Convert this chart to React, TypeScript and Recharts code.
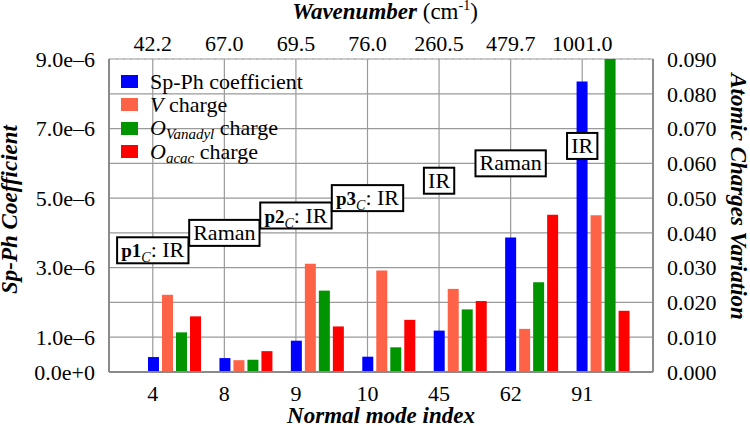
import React, { useLayoutEffect, useRef, useState } from 'react';
import { BarChart, Bar, XAxis, YAxis, CartesianGrid, Legend, ReferenceDot, ReferenceLine } from 'recharts';

const FONT = '"Liberation Serif", "Times New Roman", serif';

// normal modes and their wavenumbers (cm-1)
const modes = ['4', '8', '9', '10', '45', '62', '91'];
const wavenumbers = ['42.2', '67.0', '69.5', '76.0', '260.5', '479.7', '1001.0'];

// left axis
const spPh = [0.43e-6, 0.4e-6, 0.9e-6, 0.44e-6, 1.19e-6, 3.87e-6, 8.35e-6];
// right axis
const vCharge = [0.0222, 0.0034, 0.0311, 0.0292, 0.0239, 0.0124, 0.0451];
const oVanadyl = [0.0114, 0.0035, 0.0234, 0.0071, 0.018, 0.0258, 0.09];
const oAcac = [0.016, 0.006, 0.0131, 0.015, 0.0204, 0.0452, 0.0176];

const leftTicks = [0, 1e-6, 3e-6, 5e-6, 7e-6, 9e-6];
const rightTicks = [0, 0.01, 0.02, 0.03, 0.04, 0.05, 0.06, 0.07, 0.08, 0.09];
const minorTicks = [0.5e-6, 1.5e-6, 2.5e-6, 3.5e-6, 4.5e-6, 5.5e-6, 6.5e-6, 7.5e-6, 8.5e-6];

// activity labels above the groups
const tagPeaks = ['p1', '', 'p2', 'p3', '', '', ''];
const tagKinds = ['IR', 'Raman', 'IR', 'IR', 'IR', 'Raman', 'IR'];
const tagLevels = [3.5e-6, 4.0e-6, 4.5e-6, 5.0e-6, 5.5e-6, 6.0e-6, 6.5e-6];

const data = modes.map((mode, i) => ({
    mode,
    wn: wavenumbers[i],
    spPh: spPh[i],
    vCharge: vCharge[i],
    oVanadyl: oVanadyl[i],
    oAcac: oAcac[i],
}));

const series = [
    { key: 'spPh', axis: 'left', color: '#0000FF', label: <>Sp-Ph coefficient</> },
    { key: 'vCharge', axis: 'right', color: '#FF6347', label: <><i>V</i> charge</> },
    {
        key: 'oVanadyl',
        axis: 'right',
        color: '#009400',
        label: <><i>O<span style={{ fontSize: 15, position: 'relative', top: 4 }}>Vanadyl</span></i> charge</>,
    },
    {
        key: 'oAcac',
        axis: 'right',
        color: '#FF0000',
        label: <><i>O<span style={{ fontSize: 15, position: 'relative', top: 4 }}>acac</span></i> charge</>,
    },
];

const GRID = '#9a9a9a';
const tickStyle = { fill: '#000', fontSize: 22, fontFamily: FONT };
const titleStyle = { fontFamily: FONT, fontSize: 23, fontWeight: 'bold' as const, fontStyle: 'italic' as const };

const TagBox = ({ cx, cy, peak, kind }: any) => {
    const ref = useRef<SVGTextElement>(null);
    const [w, setW] = useState(0);
    useLayoutEffect(() => {
        if (ref.current) setW(ref.current.getBBox().width);
    }, [peak, kind]);
    if (cx == null || cy == null) return null;
    return (
        <g>
            <rect x={cx - w / 2 - 4} y={cy - 13} width={w + 8} height={26} fill="#fff" stroke="#000" strokeWidth={2} />
            <text ref={ref} x={cx} y={cy + 7} textAnchor="middle" fontFamily={FONT} fontSize={22} fill="#000">
                {peak ? (
                    <>
                        <tspan fontWeight="bold" fontSize={19}>{peak}</tspan>
                        <tspan fontStyle="italic" fontSize={14} dy={5}>C</tspan>
                        <tspan dy={-5}>: {kind}</tspan>
                    </>
                ) : (
                    <tspan>{kind}</tspan>
                )}
            </text>
        </g>
    );
};

const LegendBox = () => (
    <div style={{ fontFamily: FONT, fontSize: 22, color: '#000' }}>
        {series.map((s) => (
            <div key={s.key} style={{ display: 'flex', alignItems: 'center', height: 23.3, whiteSpace: 'nowrap' }}>
                <span style={{ display: 'inline-block', width: 17, height: 13, background: s.color, marginRight: 12 }} />
                <span>{s.label}</span>
            </div>
        ))}
    </div>
);

const fmtLeft = (v: number) => v.toExponential(1).replace('-', '\u2013');
const fmtRight = (v: number) => v.toFixed(3);

export default function App() {
    return (
        <div style={{ position: 'absolute', left: 0, top: 0, background: '#fff' }}>
            <BarChart
                width={750}
                height={426}
                data={data}
                margin={{ top: 29, right: 30, bottom: 18, left: 30 }}
                barSize={11}
                barGap={3}
            >
                <CartesianGrid xAxisId="grid" yAxisId="right" vertical={false} stroke={GRID} strokeWidth={1.2} />
                <CartesianGrid xAxisId="grid" yAxisId="minor" vertical={false} stroke="#b0b0b0" strokeDasharray="2 5" />

                <XAxis xAxisId="bars" dataKey="mode" hide height={0} padding={{ left: 30, right: 14 }} />
                <XAxis
                    xAxisId="grid"
                    dataKey="mode"
                    height={36}
                    padding={{ left: 8, right: 35 }}
                    tick={tickStyle}
                    tickLine={false}
                    tickSize={0}
                    tickMargin={13}
                    axisLine={{ stroke: '#8a8a8a', strokeWidth: 2 }}
                    interval={0}
                    label={{
                        content: ({ viewBox }: any) => (
                            <text x={viewBox.x + viewBox.width / 2} y={423} textAnchor="middle" fill="#000" {...titleStyle}>
                                Normal mode index
                            </text>
                        ),
                    }}
                />
                <XAxis
                    xAxisId="top"
                    dataKey="wn"
                    orientation="top"
                    height={30}
                    padding={{ left: 8, right: 35 }}
                    tick={tickStyle}
                    tickLine={false}
                    tickSize={0}
                    tickMargin={8}
                    axisLine={false}
                    interval={0}
                    label={{
                        content: ({ viewBox }: any) => (
                            <text x={viewBox.x + viewBox.width / 2 + 4} y={19} textAnchor="middle" fill="#000" fontFamily={FONT} fontSize={23}>
                                <tspan fontWeight="bold" fontStyle="italic">Wavenumber</tspan>
                                <tspan> (cm</tspan>
                                <tspan fontSize={14} dy={-9}>-1</tspan>
                                <tspan dy={9}>)</tspan>
                            </text>
                        ),
                    }}
                />

                <YAxis
                    yAxisId="left"
                    width={79}
                    domain={[0, 9e-6]}
                    ticks={leftTicks}
                    tickFormatter={fmtLeft}
                    tick={tickStyle}
                    tickLine={false}
                    tickSize={0}
                    tickMargin={14}
                    axisLine={{ stroke: '#8a8a8a', strokeWidth: 2 }}
                    label={{
                        content: ({ viewBox }: any) => {
                            const x = 17;
                            const y = viewBox.y + viewBox.height / 2 - 6;
                            return (
                                <text x={x} y={y} transform={`rotate(-90, ${x}, ${y})`} textAnchor="middle" fill="#000" {...titleStyle}>
                                    Sp-Ph Coefficient
                                </text>
                            );
                        },
                    }}
                />
                <YAxis
                    yAxisId="right"
                    orientation="right"
                    width={67}
                    domain={[0, 0.09]}
                    ticks={rightTicks}
                    tickFormatter={fmtRight}
                    tick={tickStyle}
                    tickLine={false}
                    tickSize={0}
                    tickMargin={14}
                    axisLine={{ stroke: '#8a8a8a', strokeWidth: 2 }}
                    label={{
                        content: ({ viewBox }: any) => {
                            const x = 731;
                            const y = viewBox.y + viewBox.height / 2 - 19;
                            return (
                                <text x={x} y={y} transform={`rotate(90, ${x}, ${y})`} textAnchor="middle" fill="#000" {...titleStyle}>
                                    Atomic Charges Variation
                                </text>
                            );
                        },
                    }}
                />
                <YAxis yAxisId="minor" hide width={0} domain={[0, 9e-6]} ticks={minorTicks} />

                {/* vertical grid through the mode ticks, kept under the bars */}
                {modes.map((m) => (
                    <ReferenceLine
                        key={`v-${m}`}
                        xAxisId="grid"
                        yAxisId="left"
                        x={m}
                        stroke={GRID}
                        strokeWidth={1.2}
                        ifOverflow="visible"
                        zIndex={-50}
                    />
                ))}

                <Legend
                    layout="horizontal"
                    verticalAlign="middle"
                    align="center"
                    content={<LegendBox />}
                    wrapperStyle={{ left: 121, top: 70, width: 'auto' }}
                />

                {series.map((s) => (
                    <Bar
                        key={s.key}
                        dataKey={s.key}
                        xAxisId="bars"
                        yAxisId={s.axis}
                        fill={s.color}
                        isAnimationActive={false}
                    />
                ))}

                {modes.map((m, i) => (
                    <ReferenceDot
                        key={m}
                        xAxisId="grid"
                        yAxisId="left"
                        x={m}
                        y={tagLevels[i]}
                        r={0}
                        shape={(p: any) => <TagBox cx={p.cx} cy={p.cy} peak={tagPeaks[i]} kind={tagKinds[i]} />}
                    />
                ))}
            </BarChart>
        </div>
    );
}
